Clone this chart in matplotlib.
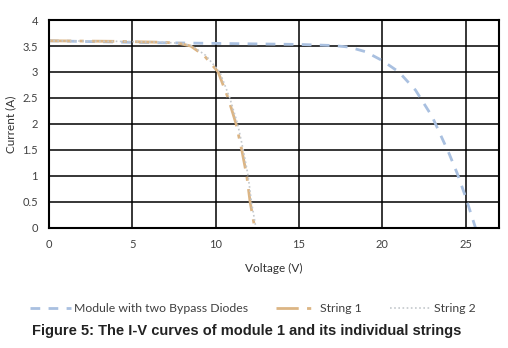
import numpy as np
import matplotlib.pyplot as plt

# Module I-V curve
v_module = [0, 5, 10, 15, 17, 18, 19, 20, 21, 22, 23, 24, 24.5, 25, 25.3, 25.6]
i_module = [3.6, 3.57, 3.55, 3.53, 3.51, 3.48, 3.39, 3.22, 3.0, 2.65, 2.14, 1.44, 1.05, 0.6, 0.3, 0]

# String 1
v_str1 = [0, 4, 7, 7.8, 8.5, 9.3, 10.15, 10.75, 11.23, 11.57, 11.87, 12.07, 12.35]
i_str1 = [3.6, 3.59, 3.57, 3.55, 3.5, 3.32, 3.0, 2.5, 2.0, 1.5, 1.0, 0.5, 0]

# String 2 (almost on top of string 1)
v_str2 = [0, 4, 7, 7.9, 8.6, 9.4, 10.25, 10.85, 11.32, 11.66, 11.95, 12.15, 12.42]
i_str2 = [3.6, 3.59, 3.57, 3.55, 3.5, 3.32, 3.0, 2.5, 2.0, 1.5, 1.0, 0.5, 0]

x_ticks = [0, 5, 10, 15, 20, 25]
y_ticks = [0, 0.5, 1, 1.5, 2, 2.5, 3, 3.5, 4]
y_labels = ['0', '0.5', '1', '1.5', '2', '2.5', '3', '3.5', '4']

plt.rcParams['font.family'] = ['Lato', 'DejaVu Sans']

fig = plt.figure(figsize=(5.08, 3.48), dpi=100)
ax = fig.add_axes([0.0965, 0.345, 0.8855, 0.5975])

ax.plot(v_module, i_module, color='#a9c0e0', lw=2, ls=(0, (3.5, 3)),
        label='Module with two Bypass Diodes')
ax.plot(v_str1, i_str1, color='#dcb584', lw=2, ls=(0, (8, 3, 1.5, 3)),
        label='String 1')
ax.plot(v_str2, i_str2, color='#c4c8cc', lw=1.2, ls=(0, (1, 1.5)),
        label='String 2')

ax.set_xlim(0, 27)
ax.set_ylim(0, 4)
ax.set_xticks(x_ticks)
ax.set_yticks(y_ticks)
ax.set_yticklabels(y_labels)
ax.tick_params(length=0, labelsize=8, colors='#404040', pad=8)
ax.grid(True, color='black', lw=1.1)
ax.set_axisbelow(True)
for sp in ax.spines.values():
    sp.set_color('black')
    sp.set_linewidth(1.5)

ax.set_xlabel('Voltage (V)', fontsize=8.5, color='#303030', labelpad=9)
ax.set_ylabel('Current (A)', fontsize=8.5, color='#303030', labelpad=4)

fig.legend(loc='center', bbox_to_anchor=(0.497, 0.113), ncol=3, frameon=False,
           fontsize=8.8, handlelength=3.4, columnspacing=2.3, handletextpad=0.2,
           labelcolor='#404040')

fig.text(0.063, 0.036, 'Figure 5: The I-V curves of module 1 and its individual strings',
         fontsize=10.5, fontweight='bold', family='Liberation Sans', color='#222222')

fig.savefig('out.png', dpi=100)
